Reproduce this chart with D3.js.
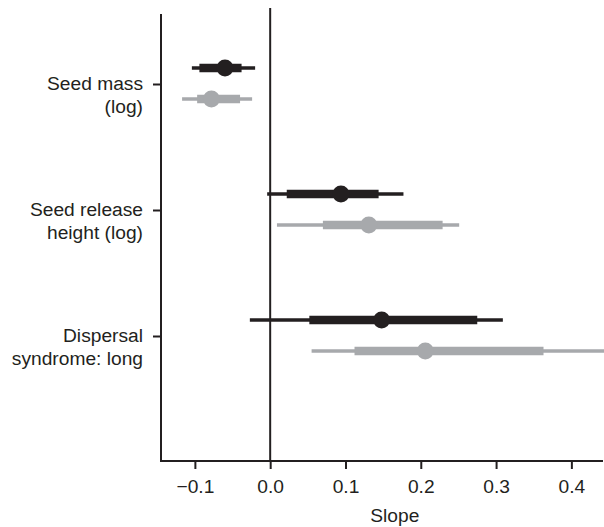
<!DOCTYPE html>
<html>
<head>
<meta charset="utf-8">
<script src="https://cdn.jsdelivr.net/npm/d3@7"></script>
<style>
  html, body { margin: 0; padding: 0; background: #fff; }
  svg { display: block; }
  text { font-family: "Liberation Sans", Arial, Helvetica, sans-serif; fill: #231f20; }
</style>
</head>
<body>
<svg id="chart" width="604" height="527"></svg>
<script>
// ---- data ----
const categories = ["Seed mass (log)", "Seed release height (log)", "Dispersal syndrome: long"];
const categoryLines = [["Seed mass", "(log)"], ["Seed release", "height (log)"], ["Dispersal", "syndrome: long"]];
const xTicks = [-0.1, 0.0, 0.1, 0.2, 0.3, 0.4];

// black series
const blackMean    = [-0.060, 0.094, 0.148];
const blackInnerLo = [-0.094, 0.022, 0.052];
const blackInnerHi = [-0.038, 0.144, 0.275];
const blackOuterLo = [-0.104, -0.004, -0.027];
const blackOuterHi = [-0.020, 0.177, 0.309];

// grey series
const greyMean    = [-0.078, 0.131, 0.206];
const greyInnerLo = [-0.097, 0.070, 0.112];
const greyInnerHi = [-0.040, 0.229, 0.363];
const greyOuterLo = [-0.117, 0.009, 0.055];
const greyOuterHi = [-0.024, 0.251, 0.450];

const series = [
  { color: "#231f20", offset: -16, mean: blackMean, inLo: blackInnerLo, inHi: blackInnerHi, outLo: blackOuterLo, outHi: blackOuterHi },
  { color: "#a7a9ac", offset: 15, mean: greyMean, inLo: greyInnerLo, inHi: greyInnerHi, outLo: greyOuterLo, outHi: greyOuterHi }
];

// ---- layout ----
const svg = d3.select("#chart");
const axisColor = "#231f20";
const fontSize = "19.2px";
const plotLeft = 161, plotRight = 603, plotTop = 14, plotBottom = 461;

const x = d3.scaleLinear().domain([-0.145, 0.442]).range([plotLeft, plotRight]);
const y = d3.scalePoint().domain(categories).range([84, 336]);

// zero line
svg.append("line")
  .attr("x1", x(0)).attr("x2", x(0))
  .attr("y1", 8).attr("y2", plotBottom)
  .attr("stroke", axisColor).attr("stroke-width", 2);

// marks
series.forEach(s => {
  const g = svg.append("g");
  categories.forEach((c, i) => {
    const yy = y(c) + s.offset;
    g.append("line")
      .attr("x1", x(s.outLo[i])).attr("x2", x(s.outHi[i]))
      .attr("y1", yy).attr("y2", yy)
      .attr("stroke", s.color).attr("stroke-width", 3.5);
    g.append("line")
      .attr("x1", x(s.inLo[i])).attr("x2", x(s.inHi[i]))
      .attr("y1", yy).attr("y2", yy)
      .attr("stroke", s.color).attr("stroke-width", 8.5);
    g.append("circle")
      .attr("cx", x(s.mean[i])).attr("cy", yy)
      .attr("r", 8.5)
      .attr("fill", s.color);
  });
});

// x axis
const xAxis = d3.axisBottom(x).tickValues(xTicks)
  .tickFormat(d => d3.format(".1f")(d).replace("-", "\u2013"))
  .tickSize(8).tickSizeOuter(0);
const gx = svg.append("g").attr("transform", `translate(0,${plotBottom})`).call(xAxis);
gx.select(".domain").attr("stroke", axisColor).attr("stroke-width", 2)
  .attr("d", `M${plotLeft},0H${plotRight}`);
gx.selectAll(".tick line").attr("stroke", axisColor).attr("stroke-width", 2);
gx.selectAll(".tick text")
  .attr("y", 0).attr("dy", null)
  .attr("transform", "translate(0,31.5)")
  .style("font-size", fontSize).attr("fill", axisColor)
  .attr("font-family", null);

svg.append("text")
  .attr("x", x(0.2) - 26).attr("y", 521.5)
  .attr("text-anchor", "middle")
  .style("font-size", fontSize)
  .text("Slope");

// y axis
const yAxis = d3.axisLeft(y).tickSize(8).tickSizeOuter(0).tickFormat("");
const gy = svg.append("g").attr("transform", `translate(${plotLeft},0)`).call(yAxis);
gy.select(".domain").attr("stroke", axisColor).attr("stroke-width", 2)
  .attr("d", `M0,${plotTop}V${plotBottom + 1}`);
gy.selectAll(".tick line").attr("stroke", axisColor).attr("stroke-width", 2);

categories.forEach((c, i) => {
  const t = svg.append("text")
    .attr("x", 143)
    .attr("y", y(c) + 5.5)
    .attr("text-anchor", "end")
    .style("font-size", fontSize);
  categoryLines[i].forEach((line, j) => {
    t.append("tspan").attr("x", 143).attr("dy", j === 0 ? 0 : 23.5).text(line);
  });
});
</script>
</body>
</html>
